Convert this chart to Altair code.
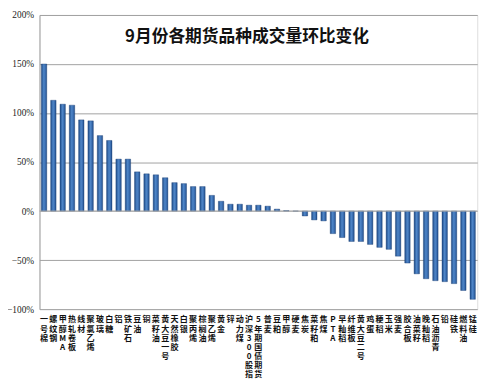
import altair as alt
import pandas as pd

categories = ["一号棉", "螺纹钢", "甲醇MA", "热轧卷板", "线材", "聚氯乙烯", "玻璃", "白糖", "铝", "铁矿石",
              "豆油", "铜", "菜籽油", "黄大豆一号", "天然橡胶", "白银", "聚丙烯", "棕榈油", "聚乙烯", "黄金",
              "锌", "动力煤", "沪深300股指", "5年期国债期货", "普麦", "豆粕", "甲醇", "硬麦", "焦炭", "菜籽粕",
              "焦煤", "PTA", "早籼稻", "纤维板", "黄大豆二号", "鸡蛋", "粳稻", "玉米", "强麦", "胶合板",
              "油菜籽", "晚籼稻", "石油沥青", "铅", "硅铁", "燃料油", "锰硅"]
values = [150, 113, 109, 108, 93, 92, 77, 72, 53, 53,
          40, 38, 37, 34, 29, 28, 25, 25, 16, 10,
          7, 7, 6, 6, 5, 2, 0.5, 0, -5, -9,
          -10, -23, -27, -31, -31, -34, -37, -39, -46, -53,
          -64, -69, -71, -72, -74, -81, -90]
y_ticks = [-100, -50, 0, 50, 100, 150, 200]
title_text = "9月份各期货品种成交量环比变化"

df = pd.DataFrame({"cat": categories, "val": [v / 100 for v in values]})

bar_fill = alt.Gradient(
    gradient="linear", x1=0, x2=1, y1=0, y2=0,
    stops=[alt.GradientStop(color="#1d4a86", offset=0),
           alt.GradientStop(color="#4f86c8", offset=0.45),
           alt.GradientStop(color="#3a6db0", offset=0.75),
           alt.GradientStop(color="#1d4a86", offset=1)])

x_enc = alt.X("cat:N", sort=None,
              scale=alt.Scale(paddingInner=0.42, paddingOuter=0.2),
              axis=alt.Axis(title=None, labelAngle=0, domain=False, ticks=False,
                            labelPadding=7, labelFont="Noto Sans CJK SC", labelFontSize=8.2,
                            labelFontWeight="bold", labelColor="#111", labelLineHeight=9.3,
                            labelBaseline="top", labelAlign="center", labelOverlap=False,
                            labelExpr="split(datum.label, '')"))

bars = alt.Chart(df).mark_bar(color=bar_fill, stroke="#1a3f75", strokeWidth=0.4).encode(
    x=x_enc,
    y=alt.Y("val:Q", scale=alt.Scale(domain=[-1, 2], nice=False),
            axis=alt.Axis(title=None, format=".0%", values=[v / 100 for v in y_ticks],
                          grid=True, gridColor="#a0a0a0", gridWidth=1,
                          domain=True, domainColor="#a0a0a0", ticks=False,
                          labelFont="Liberation Serif", labelFontSize=9.5, labelColor="#222",
                          labelPadding=6))
)

zero = alt.Chart(pd.DataFrame({"z": [0]})).mark_rule(color="#b0b0b0", strokeWidth=1).encode(
    y="z:Q")

title = alt.Chart(pd.DataFrame({"t": [title_text]})).mark_text(
    font="Noto Sans CJK SC", fontSize=17, fontWeight="bold", color="#111",
    align="center", baseline="middle").encode(
    text="t:N", x=alt.value(211), y=alt.value(22))

chart = alt.layer(bars, zero, title).properties(
    width=445, height=299,
    autosize=alt.AutoSizeParams(type="none"),
    padding={"left": 32, "top": 4, "right": 15, "bottom": 72},
).configure_view(stroke=None).configure(background="white")

chart.save("out.html", embed_options={"renderer": "svg", "actions": False})
